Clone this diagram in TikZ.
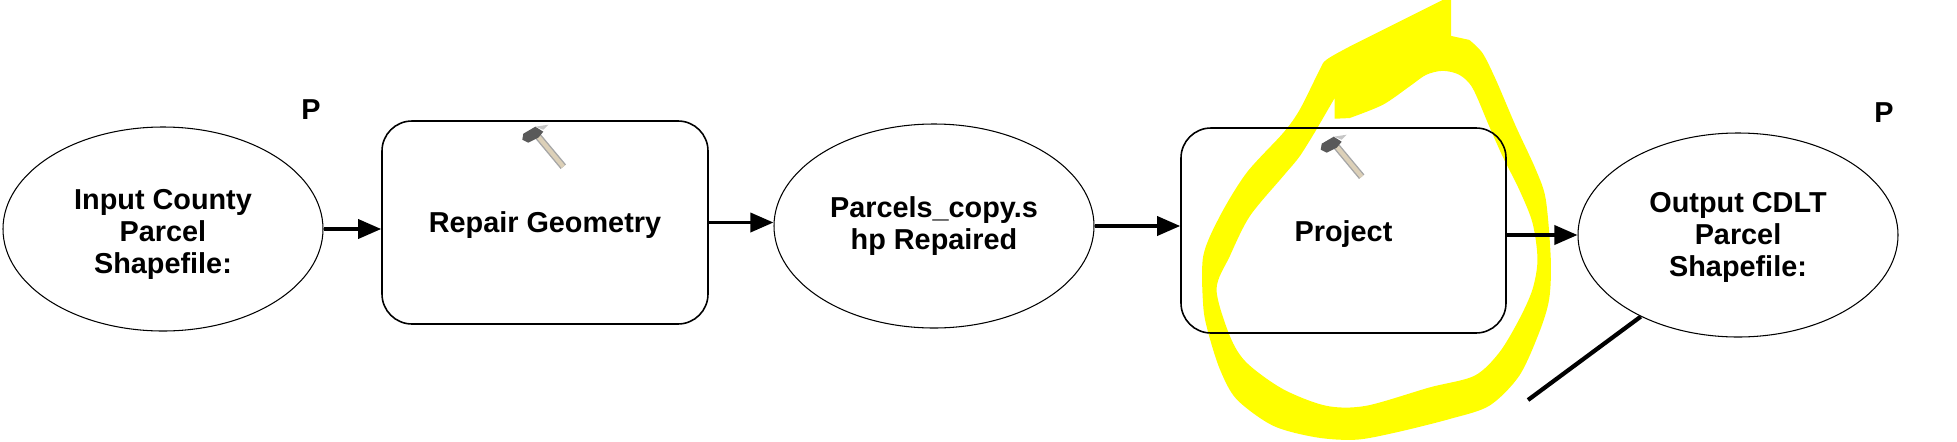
\documentclass[tikz,border=0pt]{standalone}
\usepackage{fontspec}
\setmainfont{Liberation Sans}
\usepackage{xcolor}
\usetikzlibrary{arrows.meta,shapes.geometric}
\definecolor{markerYellow}{RGB}{255,255,0}
\definecolor{handleTan}{RGB}{220,208,184}
\newcommand{\dropped}[2]{\raisebox{-#1}[\height][\depth]{\begin{tabular}{@{}c@{}}#2\end{tabular}}}
\tikzset{
  dataell/.style={draw, ellipse, line width=0.3pt, minimum width=3.2cm, minimum height=2.04cm, inner sep=0pt, align=center},
  procbox/.style={draw, rounded corners=0.3cm, line width=0.45pt, inner sep=0pt, align=center},
  flow/.style={-{Triangle[length=2.3mm,width=1.9mm]}, line width=1pt},
  hammer/.pic={
    \draw[gray!70, line width=2pt] (0,0) -- (0.25,-0.30);
    \draw[handleTan, line width=1.2pt] (0,0) -- (0.25,-0.30);
    \fill[black!65] (-0.16,-0.03) -- (-0.15,0.03) -- (-0.03,0.10) -- (0.05,0.05) -- (0,-0.01) -- (-0.10,-0.06) -- cycle;
    \fill[gray!45] (-0.03,0.10) -- (0.10,0.12) -- (0.05,0.07) -- cycle;
  }
}
\begin{document}
\begin{tikzpicture}[every node/.style={font=\bfseries\fontsize{8.2}{9.1}\selectfont}]
  \useasboundingbox (0,0) rectangle (19.57,4.41);
  % Marker ring round the project step
  \begin{scope}[shift={(11.5,4.41)}, x=0.003333cm, y=-0.003333cm]
    \fill[markerYellow, even odd rule]
      (905,0) -- (905,108) -- plot[smooth, tension=0.5] coordinates {(960,120) (1000,160) (1040,240) (1100,380) (1160,510) (1190,600) (1205,780) (1200,900) (1170,1000) (1110,1130) (1020,1220) (900,1260) (740,1300) (620,1322) (500,1315) (370,1280) (260,1200) (210,1110) (175,1000) (160,920) (160,770) (210,650) (290,520) (400,400) (450,330) (510,210) (530,180) (600,140) (700,90) (800,40) (880,0)} -- cycle
      (555,295) -- (555,357) -- plot[smooth, tension=0.5] coordinates {(600,355) (700,315) (780,260) (830,225) (880,213) (930,225) (970,265) (1020,380) (1060,470) (1110,570) (1150,670) (1165,780) (1150,870) (1110,960) (1050,1060) (975,1130) (840,1165) (650,1220) (530,1220) (400,1170) (290,1090) (240,1010) (200,870) (240,770) (300,650) (400,530) (450,470) (500,390)} -- cycle;
  \end{scope}
  % Model elements
  \node[dataell] (inparcel) at (1.63,2.12) {\dropped{1.7pt}{Input County\\Parcel\\Shapefile:}};
  \node[procbox, minimum width=3.26cm, minimum height=2.03cm] (repair) at (5.45,2.185) {\dropped{1.1pt}{Repair Geometry}};
  \node[dataell] (copyshp) at (9.34,2.15) {Parcels\_copy.s\\hp Repaired};
  \node[procbox, minimum width=3.25cm, minimum height=2.05cm] (project) at (13.435,2.105) {\dropped{1.4pt}{Project}};
  \node[dataell] (outcdlt) at (17.38,2.06) {\dropped{0.8pt}{Output CDLT\\Parcel\\Shapefile:}};
  \node (ptagin) at (3.11,3.31) {P};
  \node (ptagout) at (18.84,3.28) {P};
  % Tools
  \pic at (5.383,3.043) {hammer};
  \pic at (13.367,2.943) {hammer};
  % Flow
  \draw[flow] (inparcel.east) -- (inparcel.east -| repair.west);
  \draw[flow] (repair.east) -- (repair.east -| copyshp.west);
  \draw[flow] (copyshp.east) -- (copyshp.east -| project.west);
  \draw[flow] (outcdlt.west -| project.east) -- (outcdlt.west);
  \coordinate (leader) at (15.28,0.41);
  \draw[line width=1.2pt] (outcdlt.220) -- (leader);
\end{tikzpicture}
\end{document}
